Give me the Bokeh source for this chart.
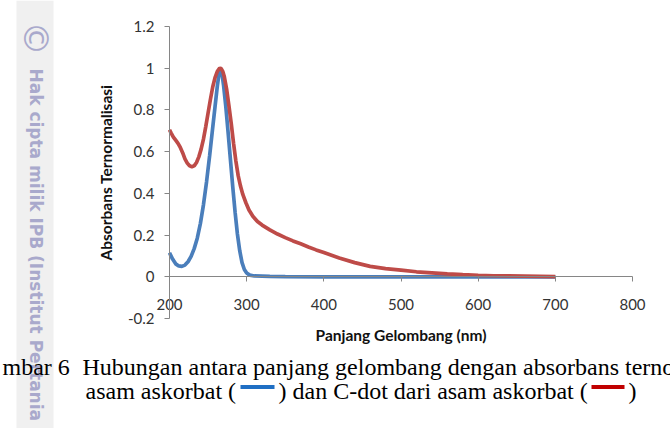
import math
from bokeh.plotting import figure
from bokeh.models import (Range1d, LinearAxis, FixedTicker, CustomJSTickFormatter,
                          Label, BoxAnnotation)
from bokeh.embed import file_html
from bokeh.resources import INLINE

# ---------------- data ----------------
wl_blue = [200, 204, 208, 212, 216, 220, 224, 228, 232, 236, 240, 244, 248, 252, 256,
           259, 262, 264, 266, 268, 270, 273, 276, 279, 282, 285, 288, 291, 294, 297,
           300, 304, 310, 320, 330, 350, 400, 450, 500, 550, 600, 650, 700]
abs_blue = [0.115, 0.085, 0.062, 0.052, 0.050, 0.056, 0.072, 0.098, 0.135, 0.185, 0.255,
            0.345, 0.455, 0.580, 0.715, 0.815, 0.915, 0.970, 1.000, 0.975, 0.920, 0.815,
            0.690, 0.560, 0.430, 0.310, 0.205, 0.125, 0.068, 0.035, 0.018, 0.008, 0.004,
            0.003, 0.002, 0.001, 0.0, 0.0, 0.0, 0.0, 0.0, 0.0, 0.0]

wl_red = [200, 202, 205, 208, 211, 214, 217, 220, 223, 226, 229, 232, 235, 238, 241, 244,
          247, 250, 253, 256, 259, 262, 265, 267, 269, 271, 274, 277, 280, 283, 286, 289,
          292, 295, 299, 303, 308, 314, 320, 330, 340, 350, 360, 370, 380, 390, 400, 420,
          440, 460, 480, 500, 520, 540, 560, 580, 600, 620, 640, 660, 680, 700]
abs_red = [0.705, 0.690, 0.670, 0.655, 0.640, 0.620, 0.595, 0.565, 0.545, 0.532, 0.528,
           0.532, 0.548, 0.575, 0.612, 0.660, 0.720, 0.785, 0.850, 0.910, 0.955, 0.985,
           1.000, 0.998, 0.985, 0.960, 0.900, 0.820, 0.735, 0.640, 0.555, 0.485, 0.435,
           0.395, 0.355, 0.320, 0.290, 0.265, 0.248, 0.225, 0.205, 0.188, 0.172, 0.158,
           0.143, 0.129, 0.116, 0.090, 0.068, 0.050, 0.039, 0.032, 0.024, 0.019, 0.014,
           0.010, 0.007, 0.005, 0.004, 0.003, 0.002, 0.001]

x_ticks = [200, 300, 400, 500, 600, 700, 800]
y_ticks = [-0.2, 0.0, 0.2, 0.4, 0.6, 0.8, 1.0, 1.2]

x_title = "Panjang Gelombang (nm)"
y_title = "Absorbans Ternormalisasi"
caption1a = "mbar 6"
caption1b = "Hubungan antara panjang gelombang dengan absorbans terno"
caption2a = "asam askorbat ("
caption2b = ") dan C-dot dari asam askorbat ("
caption2c = ")"
watermark = "Hak cipta milik IPB (Institut Pertania"

# ---------------- layout (pixels) ----------------
W, H = 670, 428
PX_L, PX_R = 169, 632      # pixel of x_ticks[0], x_ticks[-1]
PX_T, PX_B = 26, 318       # pixel of y_ticks[-1], y_ticks[0]
KX = (PX_R - PX_L) / (x_ticks[-1] - x_ticks[0])
KY = (PX_B - PX_T) / (y_ticks[-1] - y_ticks[0])


def dx(px):
    return x_ticks[0] + (px - PX_L) / KX


def dy(py):
    return y_ticks[-1] - (py - PX_T) / KY


p = figure(width=W, height=H, x_range=Range1d(dx(0), dx(W)), y_range=Range1d(dy(H), dy(0)),
           x_axis_type=None, y_axis_type=None, toolbar_location=None, output_backend="svg",
           min_border=0, min_border_left=0, min_border_right=0, min_border_top=0,
           min_border_bottom=0, outline_line_color=None,
           background_fill_color="white", border_fill_color="white")

AX_COL = "#868686"
TICK_FONT = "Lato"

xaxis = LinearAxis(fixed_location=0, bounds=(x_ticks[0], x_ticks[-1]),
                   ticker=FixedTicker(ticks=x_ticks, minor_ticks=[]),
                   axis_label=x_title)
yaxis = LinearAxis(fixed_location=x_ticks[0], bounds=(y_ticks[0], y_ticks[-1]),
                   ticker=FixedTicker(ticks=y_ticks, minor_ticks=[]),
                   formatter=CustomJSTickFormatter(code="return String(Math.round(tick*10)/10);"),
                   axis_label=y_title)
for ax in (xaxis, yaxis):
    ax.axis_line_color = AX_COL
    ax.axis_line_width = 1
    ax.major_tick_line_color = AX_COL
    ax.major_tick_in = 0
    ax.major_tick_out = 5
    ax.minor_tick_in = 0
    ax.minor_tick_out = 0
    ax.major_label_text_font = TICK_FONT
    ax.major_label_text_font_size = "15px"
    ax.major_label_text_color = "#333333"
    ax.axis_label_text_font = TICK_FONT
    ax.axis_label_text_font_style = "bold"
    ax.axis_label_text_font_size = "15.5px"
    ax.axis_label_text_color = "#111111"
xaxis.major_label_standoff = 17
xaxis.axis_label_standoff = 13
yaxis.major_label_standoff = 10
yaxis.axis_label_standoff = 10
p.add_layout(xaxis, "below")
p.add_layout(yaxis, "left")

# watermark strip
p.add_layout(BoxAnnotation(left=dx(16), right=dx(53), fill_color="#f0f0f0", fill_alpha=1,
                           line_color=None, level="underlay"))
WM_COL = "#a9a9cc"
p.add_layout(Label(x=dx(35), y=dy(38), text="\u00a9", angle=-math.pi / 2,
                   text_align="center", text_baseline="middle", text_font="DejaVu Sans",
                   text_font_size="34px", text_color=WM_COL))
p.add_layout(Label(x=dx(35), y=dy(68), text=watermark, angle=-math.pi / 2,
                   text_align="left", text_baseline="middle", text_font="DejaVu Sans",
                   text_font_style="bold", text_font_size="17px", text_color=WM_COL))

# curves
p.line(wl_blue, abs_blue, line_color="#4a7ebb", line_width=3.7)
p.line(wl_red, abs_red, line_color="#be4b48", line_width=3.7)

# caption
CAP_FONT = "Liberation Serif"
L1, L2 = 366, 390
def cap(px, py, t):
    p.add_layout(Label(x=dx(px), y=dy(py), text=t, text_align="left",
                       text_baseline="alphabetic", text_font=CAP_FONT,
                       text_font_size="24px", text_color="black"))

cap(2, L1, caption1a)
cap(82, L1, caption1b)
cap(85, L2, caption2a)
cap(278, L2, caption2b)
cap(628, L2, caption2c)
p.add_layout(BoxAnnotation(left=dx(240), right=dx(274), top=dy(L2 - 5.5), bottom=dy(L2 - 1.5),
                           fill_color="#1f6fc4", fill_alpha=1, line_color=None))
p.add_layout(BoxAnnotation(left=dx(591), right=dx(624), top=dy(L2 - 5.5), bottom=dy(L2 - 1.5),
                           fill_color="#c00000", fill_alpha=1, line_color=None))

open("out.html", "w").write(file_html(p, INLINE))
